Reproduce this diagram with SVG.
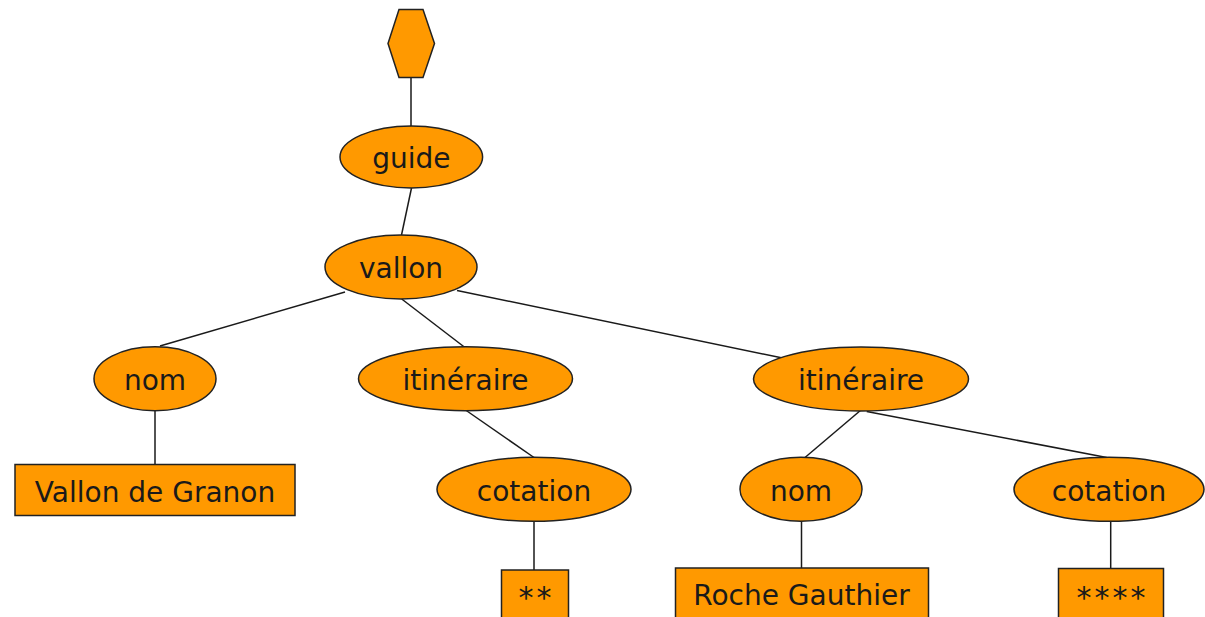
<svg xmlns="http://www.w3.org/2000/svg" width="1205" height="617" viewBox="0 0 1205 617">
<style>
.n{fill:#FF9900;stroke:#222;stroke-width:1.5}
.t{font-family:"DejaVu Sans",Verdana,sans-serif;font-size:28px;fill:#1a1a1a;text-anchor:middle}
.s{font-size:30px;letter-spacing:3px}
.c line{stroke:#1a1a1a;stroke-width:1.5}
</style>
<rect width="1205" height="617" fill="#fff"/>
<g class="c" id="connectors">
<line x1="411" y1="77" x2="411" y2="126"/>
<line x1="411.5" y1="188" x2="401.5" y2="235"/>
<line x1="345" y1="292" x2="160" y2="346"/>
<line x1="401.7" y1="299" x2="464.3" y2="347"/>
<line x1="457" y1="290.5" x2="782.6" y2="358"/>
<line x1="155" y1="410" x2="155" y2="464"/>
<line x1="465.5" y1="410" x2="534" y2="457.5"/>
<line x1="861" y1="410" x2="805" y2="457.5"/>
<line x1="866.7" y1="411.5" x2="1106.7" y2="457.5"/>
<line x1="534" y1="521" x2="534" y2="570"/>
<line x1="801.5" y1="521" x2="801.5" y2="568"/>
<line x1="1110.7" y1="521" x2="1110.7" y2="568.5"/>
</g>
<g id="root"><polygon class="n" points="399,9.5 423,9.5 434.5,43.5 423,77.5 399,77.5 388,43.5"/></g>
<g id="guide"><ellipse class="n" cx="411.3" cy="157" rx="71.3" ry="31"/><text class="t" x="411.3" y="168">guide</text></g>
<g id="vallon"><ellipse class="n" cx="401" cy="267" rx="76" ry="32"/><text class="t" x="401" y="278">vallon</text></g>
<g id="nom1"><ellipse class="n" cx="155" cy="378.7" rx="61" ry="32"/><text class="t" x="155" y="390">nom</text></g>
<g id="itineraire1"><ellipse class="n" cx="465.5" cy="378.7" rx="107" ry="32"/><text class="t" x="465.5" y="390">itinéraire</text></g>
<g id="itineraire2"><ellipse class="n" cx="861" cy="379" rx="107.5" ry="32"/><text class="t" x="861" y="390">itinéraire</text></g>
<g id="valeur1"><rect class="n" x="15" y="464.5" width="280" height="51"/><text class="t" x="155" y="501.5">Vallon de Granon</text></g>
<g id="cotation1"><ellipse class="n" cx="534" cy="489.3" rx="97" ry="32"/><text class="t" x="534" y="500.5">cotation</text></g>
<g id="nom2"><ellipse class="n" cx="801" cy="489.3" rx="61" ry="32"/><text class="t" x="801" y="500.5">nom</text></g>
<g id="cotation2"><ellipse class="n" cx="1109" cy="489.3" rx="95" ry="32"/><text class="t" x="1109" y="500.5">cotation</text></g>
<g id="valeur2"><rect class="n" x="501.5" y="570" width="67" height="60"/><text class="t s" x="536.5" y="608">**</text></g>
<g id="valeur3"><rect class="n" x="675.5" y="568" width="253" height="60"/><text class="t" x="801.5" y="605">Roche Gauthier</text></g>
<g id="valeur4"><rect class="n" x="1058.5" y="568.5" width="105" height="60"/><text class="t s" x="1112.5" y="608">****</text></g>
</svg>
